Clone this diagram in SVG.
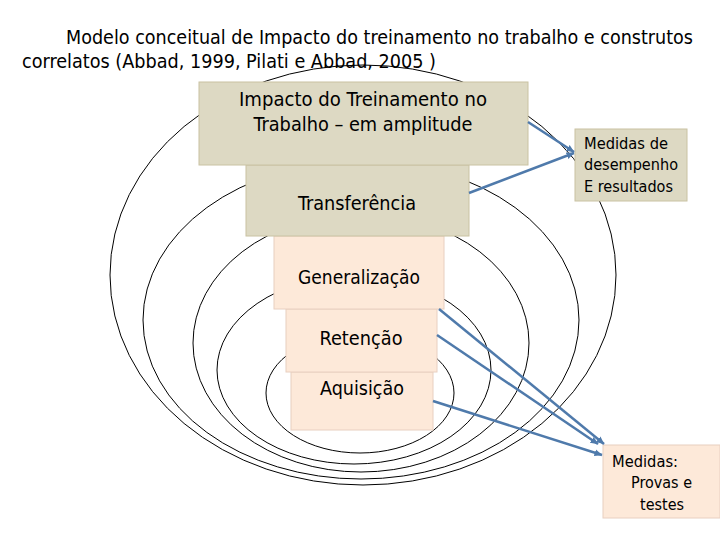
<svg xmlns="http://www.w3.org/2000/svg" width="720" height="540" viewBox="0 0 720 540">
<style>
.t{font-family:"DejaVu Sans Condensed","Liberation Sans",sans-serif;fill:#000}
.ttl{font-size:20px}
.bx{font-size:19px;text-anchor:middle}
.sm{font-size:15px}
.tan{fill:#DDD9C3;stroke:#C9C2A2;stroke-width:1}
.pch{fill:#FDE9D9;stroke:#E8CFC0;stroke-width:1}
.ring{fill:none;stroke:#000;stroke-width:1}
.con{stroke:#4F7AAB;stroke-width:2.5;fill:none;marker-end:url(#ah)}
</style>
<defs>
<marker id="ah" markerWidth="4" markerHeight="4" refX="3" refY="2" orient="auto" markerUnits="strokeWidth">
<path d="M0,0.6 L3.2,2 L0,3.4 z" fill="#4F7AAB"/>
</marker>
</defs>
<rect width="720" height="540" fill="#fff"/>
<g id="rings">
<ellipse class="ring" cx="363" cy="275" rx="253" ry="210"/>
<ellipse class="ring" cx="361" cy="320" rx="218" ry="159"/>
<ellipse class="ring" cx="361" cy="343" rx="168" ry="129"/>
<ellipse class="ring" cx="354" cy="370" rx="137" ry="94"/>
<ellipse class="ring" cx="360" cy="393" rx="94" ry="60"/>
</g>
<g id="title">
<text class="t ttl" x="66" y="44" textLength="627" lengthAdjust="spacingAndGlyphs">Modelo conceitual de Impacto do treinamento no trabalho e construtos</text>
<text class="t ttl" x="22" y="68" textLength="414" lengthAdjust="spacingAndGlyphs">correlatos (Abbad, 1999, Pilati e Abbad, 2005 )</text>
</g>
<g id="aquisicao">
<rect class="pch" x="291" y="372" width="142" height="58"/>
<text class="t bx" x="362" y="395" textLength="84" lengthAdjust="spacingAndGlyphs">Aquisição</text>
</g>
<g id="retencao">
<rect class="pch" x="286" y="309" width="151" height="63"/>
<text class="t bx" x="361" y="345" textLength="83" lengthAdjust="spacingAndGlyphs">Retenção</text>
</g>
<g id="generalizacao">
<rect class="pch" x="274" y="236" width="170" height="73"/>
<text class="t bx" x="359" y="284" textLength="122" lengthAdjust="spacingAndGlyphs">Generalização</text>
</g>
<g id="transferencia">
<rect class="tan" x="246" y="165" width="223" height="71"/>
<text class="t bx" x="357" y="210" textLength="118" lengthAdjust="spacingAndGlyphs">Transferência</text>
</g>
<g id="impacto">
<rect class="tan" x="199" y="82" width="329" height="83"/>
<text class="t bx" x="363" y="106" textLength="248" lengthAdjust="spacingAndGlyphs">Impacto do Treinamento no</text>
<text class="t bx" x="363" y="131" textLength="219" lengthAdjust="spacingAndGlyphs">Trabalho – em amplitude</text>
</g>
<g id="medidas-desempenho">
<rect class="tan" x="575" y="129" width="112" height="72"/>
<text class="t sm" x="584" y="149" textLength="84" lengthAdjust="spacingAndGlyphs">Medidas de</text>
<text class="t sm" x="584" y="170" textLength="94" lengthAdjust="spacingAndGlyphs">desempenho</text>
<text class="t sm" x="584" y="192" textLength="89" lengthAdjust="spacingAndGlyphs">E resultados</text>
</g>
<g id="medidas-provas">
<rect class="pch" x="603" y="445" width="117" height="73"/>
<text class="t sm" x="612" y="467" textLength="66" lengthAdjust="spacingAndGlyphs">Medidas:</text>
<text class="t sm" x="631" y="488" textLength="61" lengthAdjust="spacingAndGlyphs">Provas e</text>
<text class="t sm" x="640" y="510" textLength="44" lengthAdjust="spacingAndGlyphs">testes</text>
</g>
<g id="connectors">
<line class="con" x1="528" y1="122" x2="574" y2="152"/>
<line class="con" x1="469" y1="193" x2="574" y2="153"/>
<line class="con" x1="439" y1="309" x2="604" y2="444"/>
<line class="con" x1="437" y1="335" x2="598" y2="444"/>
<line class="con" x1="433" y1="401" x2="602" y2="455"/>
</g>
</svg>
